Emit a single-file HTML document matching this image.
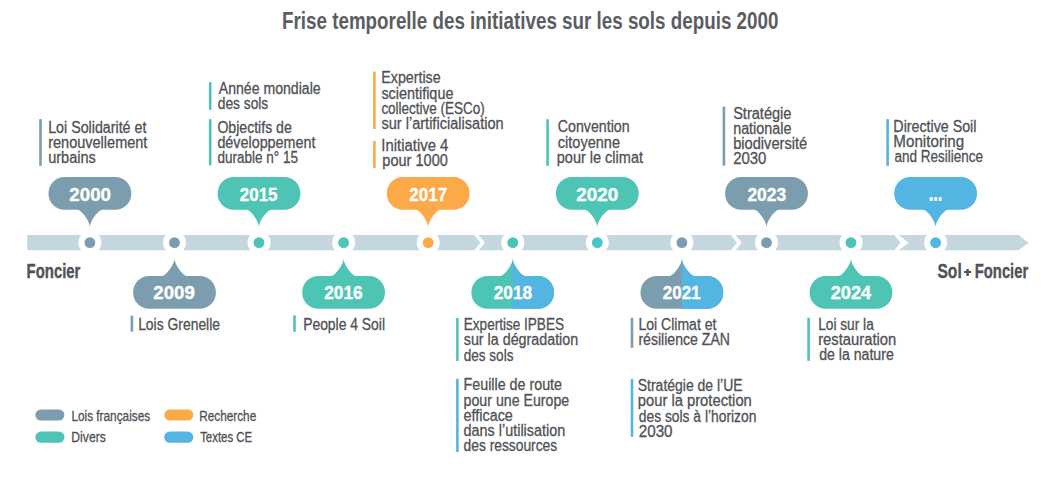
<!DOCTYPE html>
<html><head><meta charset="utf-8"><title>Frise temporelle</title>
<style>
html,body{margin:0;padding:0;background:#fff;}
body{width:1045px;height:478px;overflow:hidden;}
svg{display:block;font-family:"Liberation Sans",sans-serif;}

</style></head><body>
<svg width="1045" height="478" viewBox="0 0 1045 478">
<rect width="1045" height="478" fill="#fff"/><g fill="#4f5156">
<text x="282.00" y="28.8" font-size="23.5" font-weight="bold" fill="#5b5d63" textLength="496.42" lengthAdjust="spacingAndGlyphs">Frise temporelle des initiatives sur les sols depuis 2000</text>
<polygon points="27.2,235.0 474.3,235.0 480.5,242.7 474.3,250.3 27.2,250.3" fill="#c5d7de"/>
<polygon points="478.7,235.0 730.8,235.0 737.0,242.7 730.8,250.3 478.7,250.3 484.9,242.7" fill="#c5d7de"/>
<polygon points="735.5,235.0 894.3,235.0 900.5,242.7 894.3,250.3 735.5,250.3 741.7,242.7" fill="#c5d7de"/>
<polygon points="898.7,235.0 1018.6,235.0 1028.6,242.7 1018.6,250.3 898.7,250.3 908.7,242.7" fill="#c5d7de"/>
<circle cx="89.9" cy="242.65" r="11.5" fill="#fff"/>
<circle cx="89.9" cy="242.65" r="5.4" fill="#7b9dae"/>
<circle cx="174.5" cy="242.65" r="11.5" fill="#fff"/>
<circle cx="174.5" cy="242.65" r="5.4" fill="#7b9dae"/>
<circle cx="259.0" cy="242.65" r="11.5" fill="#fff"/>
<circle cx="259.0" cy="242.65" r="5.4" fill="#4ec4b4"/>
<circle cx="343.6" cy="242.65" r="11.5" fill="#fff"/>
<circle cx="343.6" cy="242.65" r="5.4" fill="#4ec4b4"/>
<circle cx="428.2" cy="242.65" r="11.5" fill="#fff"/>
<circle cx="428.2" cy="242.65" r="5.4" fill="#fca948"/>
<circle cx="512.8" cy="242.65" r="11.5" fill="#fff"/>
<circle cx="512.8" cy="242.65" r="5.4" fill="#4ec4b4"/>
<circle cx="597.3" cy="242.65" r="11.5" fill="#fff"/>
<circle cx="597.3" cy="242.65" r="5.4" fill="#4bc6c6"/>
<circle cx="681.9" cy="242.65" r="11.5" fill="#fff"/>
<circle cx="681.9" cy="242.65" r="5.4" fill="#7b9dae"/>
<circle cx="766.5" cy="242.65" r="11.5" fill="#fff"/>
<circle cx="766.5" cy="242.65" r="5.4" fill="#7b9dae"/>
<circle cx="851.0" cy="242.65" r="11.5" fill="#fff"/>
<circle cx="851.0" cy="242.65" r="5.4" fill="#4ec4b4"/>
<circle cx="935.6" cy="242.65" r="11.5" fill="#fff"/>
<circle cx="935.6" cy="242.65" r="5.4" fill="#52b5e2"/>
<path d="M64.5,177.0 H115.3 A16.0,16.4 0 0 1 115.3,209.8 H64.5 A16.0,16.4 0 0 1 64.5,177.0Z" fill="#7b9dae"/><path d="M77.6,208.8 L77.6,209.8 C80.9,209.8 89.6,220.3 89.9,227.2 C90.2,220.3 98.9,209.8 102.2,209.8 L102.2,208.8Z" fill="#7b9dae"/>
<text x="69.39" y="200.5" font-size="18.6" font-weight="bold" fill="#fff" textLength="41.63" lengthAdjust="spacingAndGlyphs" stroke="#fff" stroke-width="0.35">2000</text>
<path d="M149.1,276.0 H199.9 A16.0,16.4 0 0 1 199.9,308.8 H149.1 A16.0,16.4 0 0 1 149.1,276.0Z" fill="#7b9dae"/><path d="M162.2,277.0 L162.2,276.0 C165.5,276.0 174.2,265.5 174.5,258.6 C174.8,265.5 183.5,276.0 186.8,276.0 L186.8,277.0Z" fill="#7b9dae"/>
<text x="153.37" y="298.5" font-size="18.6" font-weight="bold" fill="#fff" textLength="41.45" lengthAdjust="spacingAndGlyphs" stroke="#fff" stroke-width="0.35">2009</text>
<path d="M233.6,177.0 H284.4 A16.0,16.4 0 0 1 284.4,209.8 H233.6 A16.0,16.4 0 0 1 233.6,177.0Z" fill="#4ec4b4"/><path d="M246.7,208.8 L246.7,209.8 C250.0,209.8 258.7,220.3 259.0,227.2 C259.3,220.3 268.0,209.8 271.3,209.8 L271.3,208.8Z" fill="#4ec4b4"/>
<text x="239.76" y="200.5" font-size="18.6" font-weight="bold" fill="#fff" textLength="37.84" lengthAdjust="spacingAndGlyphs" stroke="#fff" stroke-width="0.35">2015</text>
<path d="M318.2,276.0 H369.0 A16.0,16.4 0 0 1 369.0,308.8 H318.2 A16.0,16.4 0 0 1 318.2,276.0Z" fill="#4ec4b4"/><path d="M331.3,277.0 L331.3,276.0 C334.6,276.0 343.3,265.5 343.6,258.6 C343.9,265.5 352.6,276.0 355.9,276.0 L355.9,277.0Z" fill="#4ec4b4"/>
<text x="324.16" y="298.5" font-size="18.6" font-weight="bold" fill="#fff" textLength="38.45" lengthAdjust="spacingAndGlyphs" stroke="#fff" stroke-width="0.35">2016</text>
<path d="M402.8,177.0 H453.6 A16.0,16.4 0 0 1 453.6,209.8 H402.8 A16.0,16.4 0 0 1 402.8,177.0Z" fill="#fca948"/><path d="M415.9,208.8 L415.9,209.8 C419.2,209.8 427.9,220.3 428.2,227.2 C428.5,220.3 437.2,209.8 440.5,209.8 L440.5,208.8Z" fill="#fca948"/>
<text x="409.37" y="200.5" font-size="18.6" font-weight="bold" fill="#fff" textLength="37.87" lengthAdjust="spacingAndGlyphs" stroke="#fff" stroke-width="0.35">2017</text>
<clipPath id="c512L"><rect x="0" y="0" width="512.8" height="478"/></clipPath>
<clipPath id="c512R"><rect x="512.8" y="0" width="600" height="478"/></clipPath>
<g fill="#4ec4b4"><path d="M487.4,276.0 H538.1 A16.0,16.4 0 0 1 538.1,308.8 H487.4 A16.0,16.4 0 0 1 487.4,276.0Z"/><path d="M500.4,277.0 L500.4,276.0 C503.8,276.0 512.5,265.5 512.8,258.6 C513.0,265.5 521.8,276.0 525.0,276.0 L525.0,277.0Z"/></g>
<g clip-path="url(#c512R)" fill="#52b5e2"><path d="M487.4,276.0 H538.1 A16.0,16.4 0 0 1 538.1,308.8 H487.4 A16.0,16.4 0 0 1 487.4,276.0Z"/><path d="M500.4,277.0 L500.4,276.0 C503.8,276.0 512.5,265.5 512.8,258.6 C513.0,265.5 521.8,276.0 525.0,276.0 L525.0,277.0Z"/></g>
<text x="493.78" y="298.5" font-size="18.6" font-weight="bold" fill="#fff" textLength="38.42" lengthAdjust="spacingAndGlyphs" stroke="#fff" stroke-width="0.35">2018</text>
<path d="M571.9,177.0 H622.7 A16.0,16.4 0 0 1 622.7,209.8 H571.9 A16.0,16.4 0 0 1 571.9,177.0Z" fill="#4ec4b4"/><path d="M585.0,208.8 L585.0,209.8 C588.3,209.8 597.0,220.3 597.3,227.2 C597.6,220.3 606.3,209.8 609.6,209.8 L609.6,208.8Z" fill="#4ec4b4"/>
<text x="576.36" y="200.5" font-size="18.6" font-weight="bold" fill="#fff" textLength="41.86" lengthAdjust="spacingAndGlyphs" stroke="#fff" stroke-width="0.35">2020</text>
<clipPath id="c681L"><rect x="0" y="0" width="681.9" height="478"/></clipPath>
<clipPath id="c681R"><rect x="681.9" y="0" width="600" height="478"/></clipPath>
<g fill="#7b9dae"><path d="M656.5,276.0 H707.3 A16.0,16.4 0 0 1 707.3,308.8 H656.5 A16.0,16.4 0 0 1 656.5,276.0Z"/><path d="M669.6,277.0 L669.6,276.0 C672.9,276.0 681.6,265.5 681.9,258.6 C682.2,265.5 690.9,276.0 694.2,276.0 L694.2,277.0Z"/></g>
<g clip-path="url(#c681R)" fill="#52b5e2"><path d="M656.5,276.0 H707.3 A16.0,16.4 0 0 1 707.3,308.8 H656.5 A16.0,16.4 0 0 1 656.5,276.0Z"/><path d="M669.6,277.0 L669.6,276.0 C672.9,276.0 681.6,265.5 681.9,258.6 C682.2,265.5 690.9,276.0 694.2,276.0 L694.2,277.0Z"/></g>
<text x="662.76" y="298.5" font-size="18.6" font-weight="bold" fill="#fff" textLength="37.84" lengthAdjust="spacingAndGlyphs" stroke="#fff" stroke-width="0.35">2021</text>
<path d="M741.1,177.0 H791.9 A16.0,16.4 0 0 1 791.9,209.8 H741.1 A16.0,16.4 0 0 1 741.1,177.0Z" fill="#7b9dae"/><path d="M754.2,208.8 L754.2,209.8 C757.5,209.8 766.2,220.3 766.5,227.2 C766.8,220.3 775.5,209.8 778.8,209.8 L778.8,208.8Z" fill="#7b9dae"/>
<text x="747.39" y="200.5" font-size="18.6" font-weight="bold" fill="#fff" textLength="38.83" lengthAdjust="spacingAndGlyphs" stroke="#fff" stroke-width="0.35">2023</text>
<path d="M825.6,276.0 H876.4 A16.0,16.4 0 0 1 876.4,308.8 H825.6 A16.0,16.4 0 0 1 825.6,276.0Z" fill="#4ec4b4"/><path d="M838.7,277.0 L838.7,276.0 C842.0,276.0 850.7,265.5 851.0,258.6 C851.3,265.5 860.0,276.0 863.3,276.0 L863.3,277.0Z" fill="#4ec4b4"/>
<text x="830.75" y="298.5" font-size="18.6" font-weight="bold" fill="#fff" textLength="40.50" lengthAdjust="spacingAndGlyphs" stroke="#fff" stroke-width="0.35">2024</text>
<path d="M910.2,177.0 H961.0 A16.0,16.4 0 0 1 961.0,209.8 H910.2 A16.0,16.4 0 0 1 910.2,177.0Z" fill="#52b5e2"/><path d="M923.3,208.8 L923.3,209.8 C926.6,209.8 935.3,220.3 935.6,227.2 C935.9,220.3 944.6,209.8 947.9,209.8 L947.9,208.8Z" fill="#52b5e2"/>
<rect x="929.7" y="197.2" width="3.0" height="3.7" fill="#fff"/>
<rect x="934.2" y="197.2" width="3.0" height="3.7" fill="#fff"/>
<rect x="938.7" y="197.2" width="3.0" height="3.7" fill="#fff"/>
<text x="26.58" y="277.9" font-size="20" font-weight="bold" fill="#505257" textLength="53.84" lengthAdjust="spacingAndGlyphs" stroke="#505257" stroke-width="0.35">Foncier</text>
<text x="937.47" y="277.8" font-size="20" font-weight="bold" fill="#505257" textLength="24.26" lengthAdjust="spacingAndGlyphs" stroke="#505257" stroke-width="0.35">Sol</text>
<text x="974.79" y="277.8" font-size="20" font-weight="bold" fill="#505257" textLength="53.42" lengthAdjust="spacingAndGlyphs" stroke="#505257" stroke-width="0.35">Foncier</text>
<rect x="964.1" y="270.9" width="7" height="2.1" fill="#505257"/><rect x="966.4" y="268.9" width="2.4" height="7.1" fill="#505257"/>
<rect x="39.2" y="119.2" width="2.6" height="46.6" fill="#7b9dae"/>
<text x="48.18" y="132.7" font-size="16" textLength="98.22" lengthAdjust="spacingAndGlyphs" stroke="#4f5156" stroke-width="0.3">Loi Solidarité et</text>
<text x="48.19" y="148.0" font-size="16" textLength="99.22" lengthAdjust="spacingAndGlyphs" stroke="#4f5156" stroke-width="0.3">renouvellement</text>
<text x="48.17" y="163.3" font-size="16" textLength="47.64" lengthAdjust="spacingAndGlyphs" stroke="#4f5156" stroke-width="0.3">urbains</text>
<rect x="208.9" y="82.1" width="2.6" height="27.7" fill="#4ec4b4"/>
<text x="218.79" y="94.4" font-size="16" textLength="101.82" lengthAdjust="spacingAndGlyphs" stroke="#4f5156" stroke-width="0.3">Année mondiale</text>
<text x="217.77" y="109.4" font-size="16" textLength="50.48" lengthAdjust="spacingAndGlyphs" stroke="#4f5156" stroke-width="0.3">des sols</text>
<rect x="208.9" y="119.2" width="2.6" height="46.0" fill="#4ec4b4"/>
<text x="217.39" y="132.6" font-size="16" textLength="74.42" lengthAdjust="spacingAndGlyphs" stroke="#4f5156" stroke-width="0.3">Objectifs de</text>
<text x="217.40" y="147.75" font-size="16" textLength="98.02" lengthAdjust="spacingAndGlyphs" stroke="#4f5156" stroke-width="0.3">développement</text>
<text x="217.39" y="162.9" font-size="16" textLength="80.63" lengthAdjust="spacingAndGlyphs" stroke="#4f5156" stroke-width="0.3">durable n° 15</text>
<rect x="373.1" y="71.5" width="2.6" height="57.5" fill="#fca948"/>
<text x="381.37" y="83.2" font-size="16" textLength="59.25" lengthAdjust="spacingAndGlyphs" stroke="#4f5156" stroke-width="0.3">Expertise</text>
<text x="381.39" y="98.53" font-size="16" textLength="72.01" lengthAdjust="spacingAndGlyphs" stroke="#4f5156" stroke-width="0.3">scientifique</text>
<text x="381.38" y="113.86" font-size="16" textLength="103.42" lengthAdjust="spacingAndGlyphs" stroke="#4f5156" stroke-width="0.3">collective (ESCo)</text>
<text x="381.38" y="129.19" font-size="16" textLength="122.24" lengthAdjust="spacingAndGlyphs" stroke="#4f5156" stroke-width="0.3">sur l’artificialisation</text>
<rect x="373.1" y="141" width="2.6" height="27.2" fill="#fca948"/>
<text x="381.35" y="150.8" font-size="16" textLength="67.07" lengthAdjust="spacingAndGlyphs" stroke="#4f5156" stroke-width="0.3">Initiative 4</text>
<text x="382.37" y="166.2" font-size="16" textLength="65.43" lengthAdjust="spacingAndGlyphs" stroke="#4f5156" stroke-width="0.3">pour 1000</text>
<rect x="546.3" y="119.2" width="2.6" height="46.6" fill="#4ec4b4"/>
<text x="557.78" y="132.3" font-size="16" textLength="71.85" lengthAdjust="spacingAndGlyphs" stroke="#4f5156" stroke-width="0.3">Convention</text>
<text x="557.78" y="147.5" font-size="16" textLength="62.26" lengthAdjust="spacingAndGlyphs" stroke="#4f5156" stroke-width="0.3">citoyenne</text>
<text x="556.78" y="162.7" font-size="16" textLength="86.22" lengthAdjust="spacingAndGlyphs" stroke="#4f5156" stroke-width="0.3">pour le climat</text>
<rect x="722.6" y="106.6" width="2.6" height="59.1" fill="#7b9dae"/>
<text x="733.17" y="118.8" font-size="16" textLength="58.26" lengthAdjust="spacingAndGlyphs" stroke="#4f5156" stroke-width="0.3">Stratégie</text>
<text x="733.17" y="134.03" font-size="16" textLength="58.26" lengthAdjust="spacingAndGlyphs" stroke="#4f5156" stroke-width="0.3">nationale</text>
<text x="733.17" y="149.26" font-size="16" textLength="74.04" lengthAdjust="spacingAndGlyphs" stroke="#4f5156" stroke-width="0.3">biodiversité</text>
<text x="733.16" y="164.49" font-size="16" textLength="33.26" lengthAdjust="spacingAndGlyphs" stroke="#4f5156" stroke-width="0.3">2030</text>
<rect x="886.3" y="119.2" width="2.6" height="46.6" fill="#52b5e2"/>
<text x="893.37" y="132.0" font-size="16" textLength="83.06" lengthAdjust="spacingAndGlyphs" stroke="#4f5156" stroke-width="0.3">Directive Soil</text>
<text x="893.35" y="147.15" font-size="16" textLength="70.87" lengthAdjust="spacingAndGlyphs" stroke="#4f5156" stroke-width="0.3">Monitoring</text>
<text x="894.39" y="162.3" font-size="16" textLength="88.60" lengthAdjust="spacingAndGlyphs" stroke="#4f5156" stroke-width="0.3">and Resilience</text>
<rect x="130.6" y="315.6" width="2.6" height="16.0" fill="#7b9dae"/>
<text x="138.15" y="329.6" font-size="16" textLength="81.87" lengthAdjust="spacingAndGlyphs" stroke="#4f5156" stroke-width="0.3">Lois Grenelle</text>
<rect x="293.2" y="315.4" width="2.6" height="16.4" fill="#4ec4b4"/>
<text x="303.17" y="329.7" font-size="16" textLength="81.85" lengthAdjust="spacingAndGlyphs" stroke="#4f5156" stroke-width="0.3">People 4 Soil</text>
<rect x="456.1" y="318" width="2.6" height="43.0" fill="#4ec4b4"/>
<text x="463.77" y="329.6" font-size="16" textLength="100.25" lengthAdjust="spacingAndGlyphs" stroke="#4f5156" stroke-width="0.3">Expertise IPBES</text>
<text x="463.78" y="345.05" font-size="16" textLength="114.44" lengthAdjust="spacingAndGlyphs" stroke="#4f5156" stroke-width="0.3">sur la dégradation</text>
<text x="463.77" y="360.5" font-size="16" textLength="49.65" lengthAdjust="spacingAndGlyphs" stroke="#4f5156" stroke-width="0.3">des sols</text>
<rect x="456.1" y="378.8" width="2.6" height="73.1" fill="#52b5e2"/>
<text x="463.56" y="390.3" font-size="16" textLength="98.46" lengthAdjust="spacingAndGlyphs" stroke="#4f5156" stroke-width="0.3">Feuille de route</text>
<text x="463.57" y="405.55" font-size="16" textLength="105.64" lengthAdjust="spacingAndGlyphs" stroke="#4f5156" stroke-width="0.3">pour une Europe</text>
<text x="463.57" y="420.8" font-size="16" textLength="49.25" lengthAdjust="spacingAndGlyphs" stroke="#4f5156" stroke-width="0.3">efficace</text>
<text x="463.58" y="436.05" font-size="16" textLength="101.63" lengthAdjust="spacingAndGlyphs" stroke="#4f5156" stroke-width="0.3">dans l’utilisation</text>
<text x="463.59" y="451.3" font-size="16" textLength="93.63" lengthAdjust="spacingAndGlyphs" stroke="#4f5156" stroke-width="0.3">des ressources</text>
<rect x="630.7" y="317.8" width="2.6" height="30.0" fill="#7b9dae"/>
<text x="638.39" y="329.6" font-size="16" textLength="78.02" lengthAdjust="spacingAndGlyphs" stroke="#4f5156" stroke-width="0.3">Loi Climat et</text>
<text x="638.38" y="344.9" font-size="16" textLength="91.64" lengthAdjust="spacingAndGlyphs" stroke="#4f5156" stroke-width="0.3">résilience ZAN</text>
<rect x="630.7" y="379.1" width="2.6" height="57.6" fill="#52b5e2"/>
<text x="637.78" y="390.8" font-size="16" textLength="104.83" lengthAdjust="spacingAndGlyphs" stroke="#4f5156" stroke-width="0.3">Stratégie de l’UE</text>
<text x="637.77" y="406.15" font-size="16" textLength="114.06" lengthAdjust="spacingAndGlyphs" stroke="#4f5156" stroke-width="0.3">pour la protection</text>
<text x="638.79" y="421.5" font-size="16" textLength="117.62" lengthAdjust="spacingAndGlyphs" stroke="#4f5156" stroke-width="0.3">des sols à l’horizon</text>
<text x="638.77" y="436.85" font-size="16" textLength="33.79" lengthAdjust="spacingAndGlyphs" stroke="#4f5156" stroke-width="0.3">2030</text>
<rect x="807.3" y="317.8" width="2.6" height="43.0" fill="#4ec4b4"/>
<text x="818.16" y="329.7" font-size="16" textLength="55.64" lengthAdjust="spacingAndGlyphs" stroke="#4f5156" stroke-width="0.3">Loi sur la</text>
<text x="818.18" y="345.0" font-size="16" textLength="78.04" lengthAdjust="spacingAndGlyphs" stroke="#4f5156" stroke-width="0.3">restauration</text>
<text x="819.18" y="360.3" font-size="16" textLength="74.61" lengthAdjust="spacingAndGlyphs" stroke="#4f5156" stroke-width="0.3">de la nature</text>
<rect x="35.4" y="409.4" width="29" height="11.2" rx="5.6" fill="#7b9dae"/>
<rect x="35.4" y="431.6" width="29" height="11.2" rx="5.6" fill="#4ec4b4"/>
<rect x="164.3" y="409.4" width="29" height="11.2" rx="5.6" fill="#fca948"/>
<rect x="164.3" y="431.6" width="29" height="11.2" rx="5.6" fill="#52b5e2"/>
<text x="71.38" y="421.1" font-size="14" textLength="78.82" lengthAdjust="spacingAndGlyphs" stroke="#4f5156" stroke-width="0.3">Lois françaises</text>
<text x="71.34" y="441.5" font-size="14" textLength="34.46" lengthAdjust="spacingAndGlyphs" stroke="#4f5156" stroke-width="0.3">Divers</text>
<text x="199.16" y="421.1" font-size="14" textLength="57.06" lengthAdjust="spacingAndGlyphs" stroke="#4f5156" stroke-width="0.3">Recherche</text>
<text x="200.17" y="441.5" font-size="14" textLength="52.04" lengthAdjust="spacingAndGlyphs" stroke="#4f5156" stroke-width="0.3">Textes CE</text></g>
</svg>
</body></html>
